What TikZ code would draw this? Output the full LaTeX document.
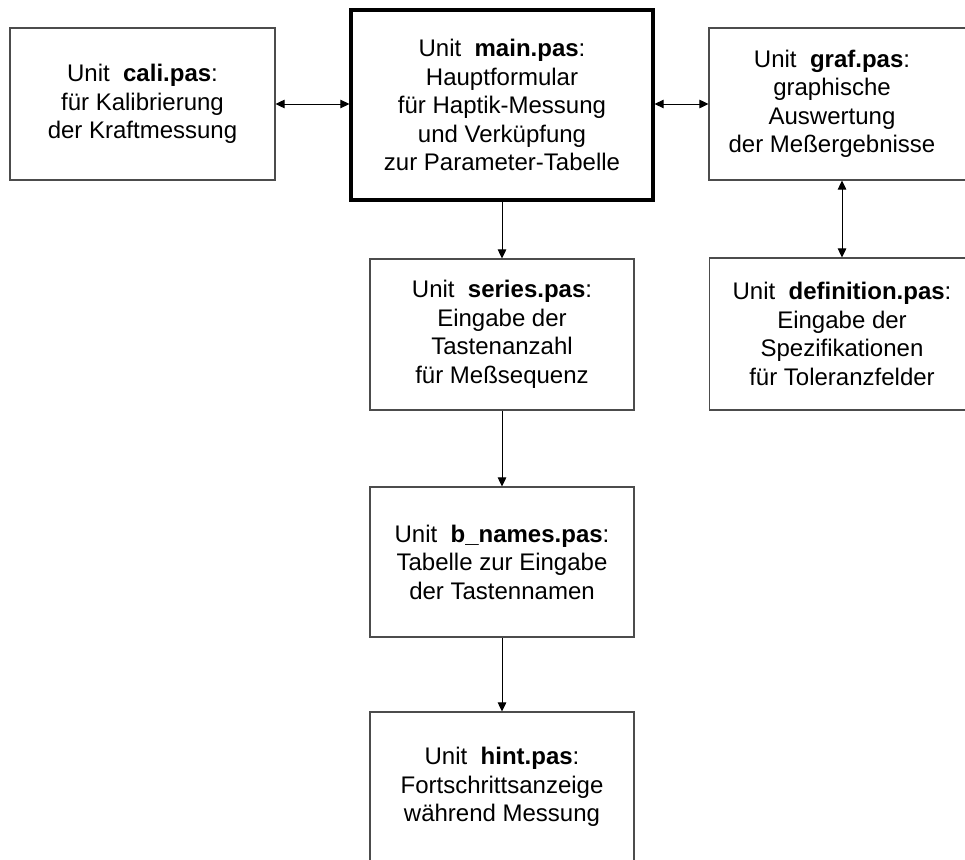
\documentclass[tikz,border=0pt]{standalone}
\usepackage{fontspec}
\setmainfont{Liberation Sans}
\usetikzlibrary{arrows.meta}
\begin{document}
\begin{tikzpicture}[x=1pt,y=-1pt,
  unitbox/.style={draw=black!70, line width=1.1pt, fill=white, inner sep=0pt,
    align=center, font=\fontsize{24}{28.5}\selectfont},
  mainbox/.style={unitbox, draw=black, line width=3.2pt},
  unittext/.style={inner sep=0pt, align=center, font=\fontsize{24}{28.5}\selectfont},
  tip/.tip={Triangle[length=9pt,width=8.5pt]},
  link/.style={draw=black, line width=0.9pt, -tip},
  twoway/.style={draw=black, line width=0.9pt, tip-tip},
]
\useasboundingbox (0,0) rectangle (965,859);
\clip (0,0) rectangle (965,859);

% units of the program
\node[unitbox, minimum width=265pt, minimum height=152pt] (cali) at (142.5,104)
  {Unit\ \ \textbf{cali.pas}:\\für Kalibrierung\\der Kraftmessung};
\node[mainbox, minimum width=302pt, minimum height=190pt] (main) at (502,105)
  {Unit\ \ \textbf{main.pas}:\\Hauptformular\\für Haptik-Messung\\und Verküpfung\\zur Parameter-Tabelle};
\node[unitbox, minimum width=266pt, minimum height=152pt] (graf) at (842,104) {};
\node[unittext] (graftext) at (832,104)
  {Unit\ \ \textbf{graf.pas}:\\graphische\\Auswertung\\der Meßergebnisse};
\node[unitbox, minimum width=264pt, minimum height=151pt] (series) at (502,334.5)
  {Unit\ \ \textbf{series.pas}:\\Eingabe der\\Tastenanzahl\\für Meßsequenz};
\node[unitbox, minimum width=265pt, minimum height=152pt] (definition) at (842,334)
  {Unit\ \ \textbf{definition.pas}:\\Eingabe der\\Spezifikationen\\für Toleranzfelder};
\node[unitbox, minimum width=264pt, minimum height=150pt] (bnames) at (502,562)
  {Unit\ \ \textbf{b\_names.pas}:\\Tabelle zur Eingabe\\der Tastennamen};
\node[unitbox, minimum width=264pt, minimum height=150pt] (hint) at (502,787)
  {Unit\ \ \textbf{hint.pas}:\\Fortschrittsanzeige\\während Messung};

% links between the units
\draw[twoway] (cali.east) -- (cali.east -| main.west);
\draw[twoway] (main.east |- graf.west) -- (graf.west);
\draw[twoway] (graf.south) -- (definition.north);
\draw[link] (main.south) -- (series.north);
\draw[link] (series.south) -- (bnames.north);
\draw[link] (bnames.south) -- (hint.north);
\end{tikzpicture}
\end{document}
